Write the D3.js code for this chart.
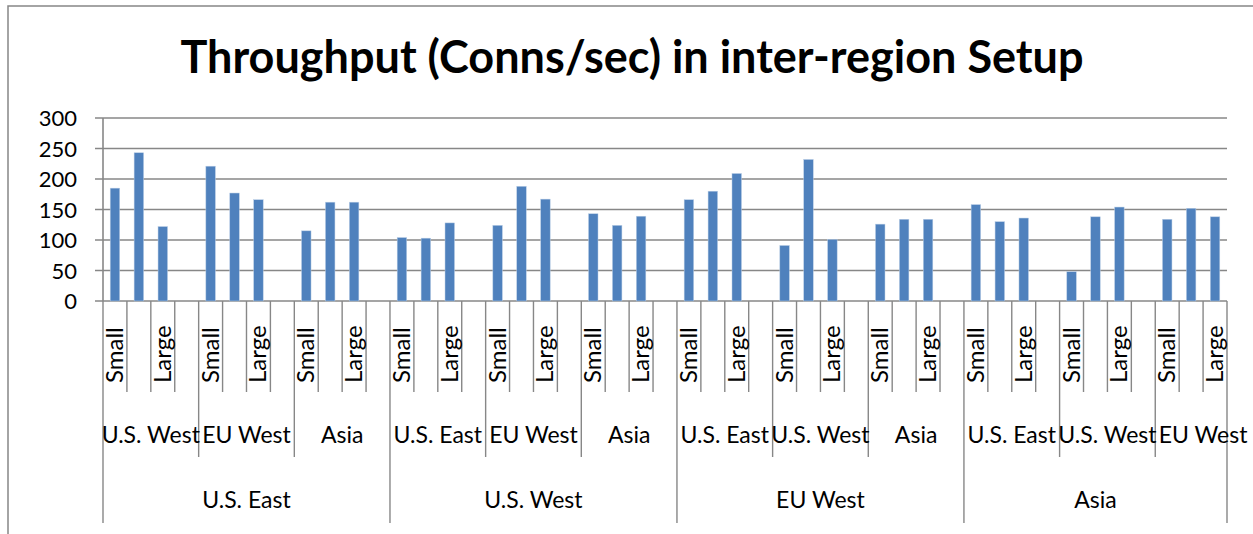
<!DOCTYPE html>
<html>
<head>
<meta charset="utf-8">
<script src="https://cdn.jsdelivr.net/npm/d3@7"></script>
<style>
  body { margin: 0; background: #fff; }
  text { font-family: Lato, "Open Sans", sans-serif; fill: #000; }
</style>
</head>
<body>
<svg id="chart" width="1253" height="534"></svg>
<script>
// source regions (outer groups) and destination regions (inner groups)
var sources = ['U.S. East', 'U.S. West', 'EU West', 'Asia']
var dests = {
  'U.S. East': ['U.S. West', 'EU West', 'Asia'],
  'U.S. West': ['U.S. East', 'EU West', 'Asia'],
  'EU West': ['U.S. East', 'U.S. West', 'Asia'],
  'Asia': ['U.S. East', 'U.S. West', 'EU West']
}
var sizes = ['Small', 'Medium', 'Large']

// conns/sec, per source: [dest][size]
var usEast = [[185, 243, 122], [221, 177, 166], [115, 162, 162]]
var usWest = [[104, 103, 128], [124, 188, 167], [143, 124, 139]]
var euWest = [[166, 180, 209], [91, 232, 101], [126, 134, 134]]
var asia   = [[158, 130, 136], [48, 138, 154], [134, 152, 138]]
var values = [usEast, usWest, euWest, asia]

var yTicks = [0, 50, 100, 150, 200, 250, 300]

// flatten into slots: each dest group gets 3 sizes + a blank slot (not after the very last)
var slots = []
sources.forEach(function (s, si) {
  dests[s].forEach(function (d, di) {
    sizes.forEach(function (z, zi) {
      slots.push({ src: s, si: si, dest: d, di: di, size: z, value: values[si][di][zi] })
    })
    if (!(si == sources.length - 1 && di == 2)) slots.push({ src: s, si: si, dest: d, di: di, size: '', value: null })
  })
})
slots.forEach(function (d, i) { d.i = i })

var svg = d3.select('#chart')
var pl = 103, pr = 1227, pt = 118, pb = 301

var x = d3.scaleBand().domain(d3.range(slots.length)).range([pl, pr])
var y = d3.scaleLinear().domain([0, 300]).range([pb, pt])

// chart frame (left + top edges visible)
svg.append('path').attr('d', 'M8,534V6H1253').attr('fill', 'none').attr('stroke', '#868686').attr('stroke-width', 1.5)

svg.append('text')
  .attr('x', 632).attr('y', 73)
  .attr('text-anchor', 'middle')
  .style('font-size', '45px').style('font-weight', 'bold')
  .text('Throughput (Conns/sec) in inter-region Setup')

// gridlines + y labels
svg.selectAll('.grid').data(yTicks).enter().append('line')
  .attr('x1', pl - 8).attr('x2', pr)
  .attr('y1', function (d) { return y(d) }).attr('y2', function (d) { return y(d) })
  .attr('stroke', '#878787').attr('stroke-width', 1.6)

svg.selectAll('.ylab').data(yTicks).enter().append('text')
  .attr('x', 77).attr('y', function (d) { return y(d) + 8 })
  .attr('text-anchor', 'end')
  .style('font-size', '22px')
  .text(function (d) { return d })

svg.append('line').attr('x1', pl).attr('x2', pl).attr('y1', pt).attr('y2', pb)
  .attr('stroke', '#878787').attr('stroke-width', 1.6)

// bars
var bw = 9.5
svg.selectAll('.bar').data(slots.filter(function (d) { return d.value != null })).enter().append('rect')
  .attr('x', function (d) { return x(d.i) + x.bandwidth() / 2 - bw / 2 })
  .attr('y', function (d) { return y(d.value) })
  .attr('width', bw)
  .attr('height', function (d) { return y(0) - y(d.value) })
  .attr('fill', '#4F81BD')
  .attr('stroke', '#b9cde5').attr('stroke-width', 0.5)

// category ticks: slot boundaries, dest boundaries, source boundaries
var bounds = d3.range(slots.length + 1).map(function (i) {
  var prev = slots[i - 1], next = slots[i]
  var level = 0
  if (!prev || !next || prev.si != next.si) level = 2
  else if (prev.di != next.di) level = 1
  return { x: i == slots.length ? pr : x(i), level: level }
})
var tickEnd = [392, 457, 523]
svg.selectAll('.ctick').data(bounds).enter().append('line')
  .attr('x1', function (d) { return d.x }).attr('x2', function (d) { return d.x })
  .attr('y1', pb).attr('y2', function (d) { return tickEnd[d.level] })
  .attr('stroke', '#878787').attr('stroke-width', 1.4)

// size labels, every other slot
svg.selectAll('.slab').data(slots.filter(function (d) { return d.i % 2 == 0 && d.size })).enter().append('text')
  .attr('transform', function (d) { return 'translate(' + (x(d.i) + x.bandwidth() / 2 + 8) + ',' + 383 + ') rotate(-90)' })
  .style('font-size', '24px')
  .text(function (d) { return d.size })

// dest labels
var destGroups = d3.groups(slots, function (d) { return d.si + '|' + d.di })
svg.selectAll('.dlab').data(destGroups).enter().append('text')
  .attr('x', function (g) { var s = g[1]; return (x(s[0].i) + x(s[0].i) + 4 * x.bandwidth()) / 2 })
  .attr('y', 443)
  .attr('text-anchor', 'middle')
  .style('font-size', '23px')
  .text(function (g) { return g[1][0].dest })

// source labels
var srcGroups = d3.groups(slots, function (d) { return d.si })
svg.selectAll('.olab').data(srcGroups).enter().append('text')
  .attr('x', function (g) { var s = g[1]; return (x(s[0].i) + x(s[s.length - 1].i) + x.bandwidth()) / 2 })
  .attr('y', 508)
  .attr('text-anchor', 'middle')
  .style('font-size', '23px')
  .text(function (g) { return g[1][0].src })
</script>
</body>
</html>
